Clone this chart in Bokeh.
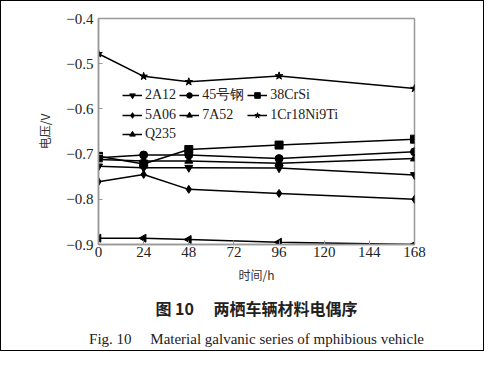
import numpy as np
from bokeh.plotting import figure
from bokeh.models import Range1d, FixedTicker, Legend, LegendItem, Title
from bokeh.embed import file_html
from bokeh.resources import INLINE

hours = [0, 24, 48, 96, 168]
v_2a12 = [-0.727, -0.730, -0.730, -0.731, -0.746]
v_45 = [-0.708, -0.702, -0.702, -0.710, -0.695]
v_38crsi = [-0.705, -0.722, -0.690, -0.680, -0.667]
v_5a06 = [-0.761, -0.745, -0.778, -0.787, -0.800]
v_7a52 = [-0.886, -0.886, -0.889, -0.895, -0.900]
v_1cr18 = [-0.478, -0.528, -0.540, -0.527, -0.555]
v_q235 = [-0.712, -0.715, -0.715, -0.720, -0.710]

series = [
    ("2A12", v_2a12, "inverted_triangle", 0.0),
    ("45号钢", v_45, "circle", 0.0),
    ("38CrSi", v_38crsi, "square", 0.0),
    ("5A06", v_5a06, "diamond", 0.0),
    ("7A52", v_7a52, "triangle", np.pi / 2),
    ("1Cr18Ni9Ti", v_1cr18, "star", 0.0),
    ("Q235", v_q235, "triangle", 0.0),
]

x_ticks = [0, 24, 48, 72, 96, 120, 144, 168]
y_ticks = [-0.9, -0.8, -0.7, -0.6, -0.5, -0.4]
y_labels = {t: ("\u2212%.1f" % abs(t)) for t in y_ticks}

SERIF = "Liberation Serif"
CJK = "Noto Sans CJK SC"

p = figure(width=484, height=351, output_backend="svg", toolbar_location=None,
           x_range=Range1d(0, 168), y_range=Range1d(-0.9, -0.4),
           min_border_left=97, min_border_right=71, min_border_top=17,
           min_border_bottom=108)
p.styles = {"border": "1px solid black", "box-sizing": "border-box"}
p.grid.visible = False
p.outline_line_color = "#999999"
p.outline_line_width = 1.5

for ax in (p.xaxis[0], p.yaxis[0]):
    ax.axis_line_color = "#999999"
    ax.axis_line_width = 1.5
    ax.major_tick_in = 4
    ax.major_tick_out = 0
    ax.major_tick_line_color = "#999999"
    ax.minor_tick_line_color = None
    ax.major_label_text_font = SERIF
    ax.major_label_text_font_size = "15px"
    ax.major_label_text_color = "#222222"
    ax.axis_label_text_font = CJK
    ax.axis_label_text_font_size = "12px"
    ax.axis_label_text_font_style = "normal"
    ax.axis_label_text_color = "#333333"

p.xaxis.ticker = FixedTicker(ticks=x_ticks)
p.yaxis.ticker = FixedTicker(ticks=y_ticks)
p.yaxis.major_label_overrides = y_labels
p.xaxis.axis_label = "时间/h"
p.yaxis.axis_label = "电压/V"
p.xaxis.major_label_standoff = 2
p.yaxis.major_label_standoff = 5
p.xaxis.axis_label_standoff = 6
p.yaxis.axis_label_standoff = 10

items = []
for name, vals, marker, ang in series:
    r1 = p.line(hours, vals, line_color="black", line_width=1.5)
    r2 = p.scatter(hours, vals, marker=marker, angle=ang, size=8,
                   fill_color="black", line_color="black")
    items.append(LegendItem(label=name, renderers=[r1, r2]))

legend = Legend(items=items, orientation="horizontal", ncols=3,
                location=(24, 102), background_fill_alpha=0,
                border_line_color=None, padding=0, margin=0, spacing=3,
                glyph_width=20, glyph_height=14, label_height=14,
                label_standoff=3,
                label_text_font=SERIF, label_text_font_size="14px",
                label_text_line_height=1.0,
                label_text_color="#222222")
p.add_layout(legend)

t1 = Title(text="图 10\u3000 两栖车辆材料电偶序", align="center",
           text_font=CJK, text_font_size="16px", text_font_style="bold",
           text_color="#222222", standoff=17)
t2 = Title(text="Fig. 10\u2003 Material galvanic series of mphibious vehicle",
           align="center", text_font=SERIF, text_font_size="15px",
           text_font_style="normal", text_color="#222222", standoff=0)
p.add_layout(t1, "below")
p.add_layout(t2, "below")

open("out.html", "w").write(file_html(p, INLINE))
